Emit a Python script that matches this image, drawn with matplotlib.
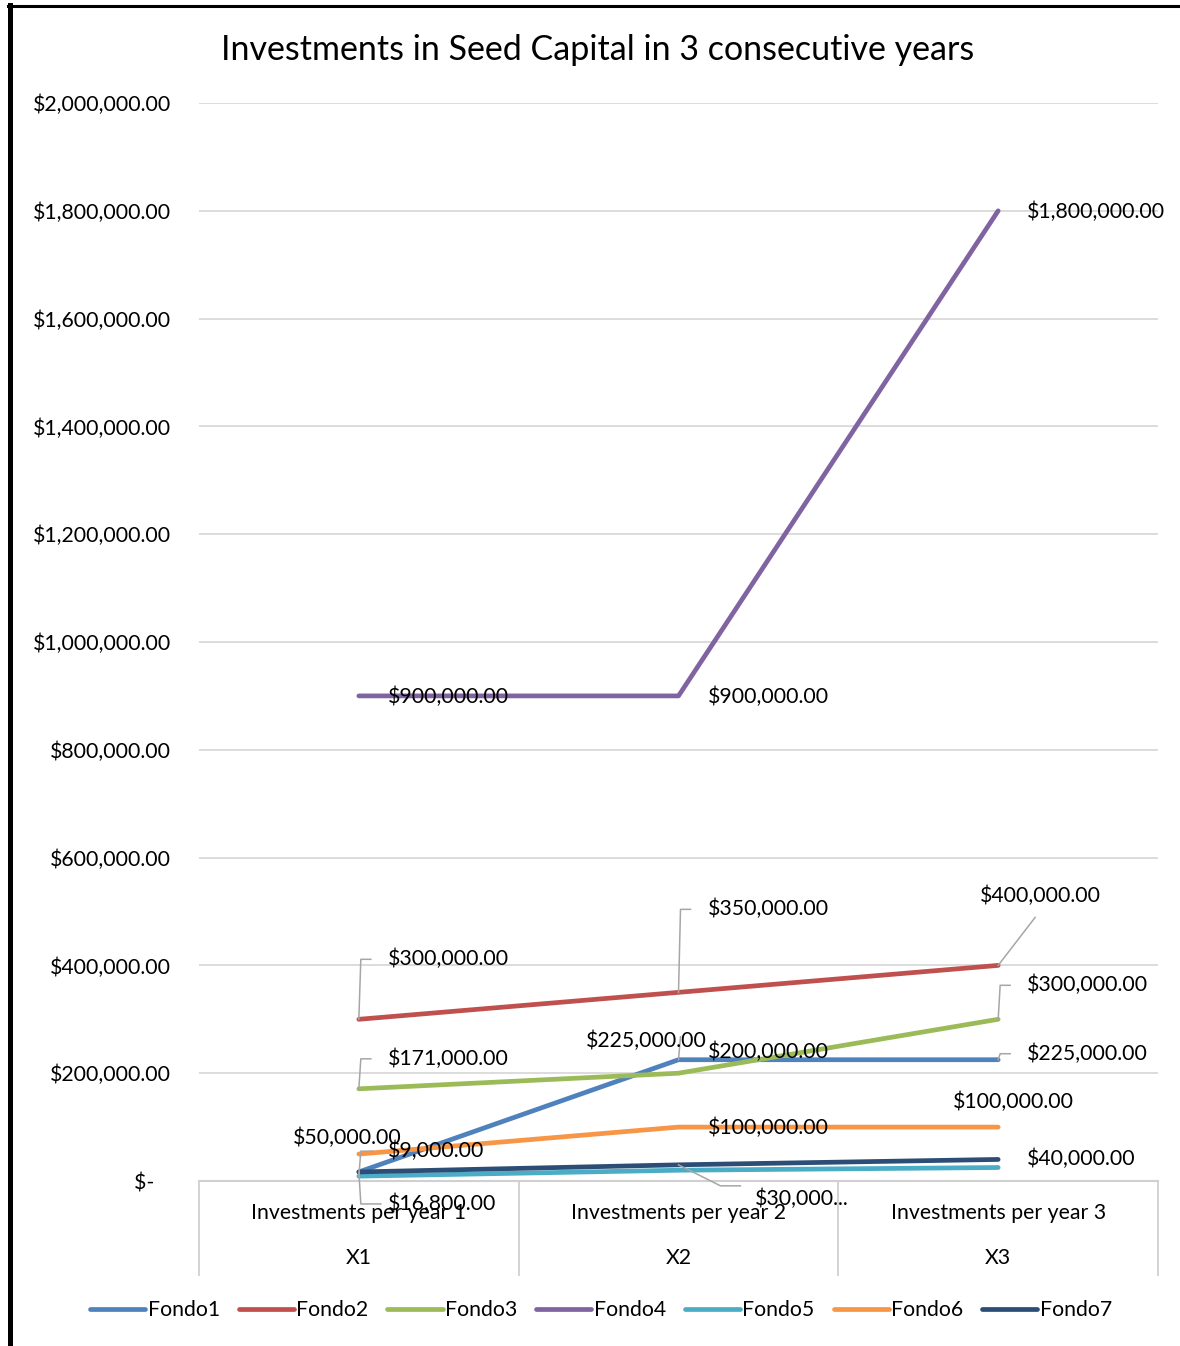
import matplotlib.pyplot as plt
from matplotlib.lines import Line2D
import matplotlib.ticker as mticker

plt.rcParams['font.family'] = ['Lato', 'DejaVu Sans']

# data
categories = ["Investments per year 1", "Investments per year 2", "Investments per year 3"]
groups = ["X1", "X2", "X3"]
series_names = ["Fondo1", "Fondo2", "Fondo3", "Fondo4", "Fondo5", "Fondo6", "Fondo7"]
fondo1 = [16800, 225000, 225000]
fondo2 = [300000, 350000, 400000]
fondo3 = [171000, 200000, 300000]
fondo4 = [900000, 900000, 1800000]
fondo5 = [9000, 20000, 25000]
fondo6 = [50000, 100000, 100000]
fondo7 = [16800, 30000, 40000]
series = [fondo1, fondo2, fondo3, fondo4, fondo5, fondo6, fondo7]
colors = ["#4F81BD", "#C0504D", "#9BBB59", "#8064A2", "#4BACC6", "#F79646", "#2C4D75"]
yticks = [0, 200000, 400000, 600000, 800000, 1000000, 1200000, 1400000, 1600000, 1800000, 2000000]

FS = 15.3
W, H = 1180, 1346
fig = plt.figure(figsize=(W / 100, H / 100), dpi=100)
ax = fig.add_axes([199 / W, (H - 1181) / H, (1158 - 199) / W, (1181 - 103) / H])

x = range(len(categories))
for vals, c, name in zip(series, colors, series_names):
    ax.plot(x, vals, color=c, lw=3.4, solid_capstyle='round', solid_joinstyle='round',
            label=name, zorder=3)

ax.set_xlim(-0.5, 2.5)
ax.set_ylim(0, 2000000)
ax.set_yticks(yticks)
ax.yaxis.set_major_formatter(mticker.FuncFormatter(
    lambda v, p: "$-   " if v == 0 else f"${v:,.2f}"))
ax.tick_params(axis='y', length=0, pad=20, labelsize=FS)
ax.set_xticks([])
for s in ax.spines.values():
    s.set_visible(False)
ax.grid(axis='y', color='#d9d9d9', lw=1.3, zorder=0)

# multi-level category axis below the plot
gray = '#d0d0d0'
axh = 1181 - 103
tr = ax.get_xaxis_transform()
ax.add_line(Line2D([-0.5, 2.5], [0, 0], transform=tr, color=gray, lw=1.5, clip_on=False))
for xv in [-0.5, 0.5, 1.5, 2.5]:
    ax.add_line(Line2D([xv, xv], [0, -94 / axh], transform=tr, color=gray, lw=1.3, clip_on=False))
for i, (cat, g) in enumerate(zip(categories, groups)):
    ax.text(i, -32 / axh, cat, transform=tr, ha='center', va='center', fontsize=FS)
    ax.text(i, -77 / axh, g, transform=tr, ha='center', va='center', fontsize=FS)

# data labels (offsets in pixels)
lead = dict(color='#a6a6a6', lw=1.1)


def lab(xi, yv, text, dx, dy, ha='left', path=None):
    ax.annotate(text, (xi, yv), xytext=(dx, dy), textcoords='offset pixels',
                ha=ha, va='center', fontsize=FS, zorder=5, annotation_clip=False)
    if path is not None:
        px = [xi + p[0] / 320 for p in path]
        py = [yv - p[1] * 2000000 / axh for p in path]
        ax.add_line(Line2D(px, py, zorder=4, clip_on=False, **lead))


lab(2, fondo4[2], "$1,800,000.00", 29, -1)
lab(0, fondo4[0], "$900,000.00", 29, -1)
lab(1, fondo4[1], "$900,000.00", 29, -1)
lab(2, fondo2[2], "$400,000.00", 42, 70, ha='center', path=[(0, 0), (37, -48)])
lab(1, fondo2[1], "$350,000.00", 29, 83, path=[(0, 0), (2, -83), (12, -83)])
lab(0, fondo2[0], "$300,000.00", 29, 60, path=[(0, 0), (2, -60), (12, -60)])
lab(2, fondo3[2], "$300,000.00", 29, 34, path=[(0, 0), (2, -34), (12, -34)])
lab(2, fondo1[2], "$225,000.00", 29, 6, path=[(0, 0), (2, -6), (12, -6)])
lab(1, fondo1[1], "$225,000.00", 28, 19, ha='right', path=[(0, 0), (2, -23)])
lab(1, fondo3[1], "$200,000.00", 29, 21)
lab(0, fondo3[0], "$171,000.00", 29, 30, path=[(0, 0), (2, -30), (12, -30)])
lab(0, fondo6[0], "$50,000.00", -12, 16, ha='center')
lab(0, fondo5[0], "$9,000.00", 29, 25, path=[(0, 0), (2, -25), (14, -25)])
lab(0, fondo7[0], "$16,800.00", 29, -32, path=[(0, 0), (2, 32), (22, 32)])
lab(1, fondo6[1], "$100,000.00", 29, -1)
lab(2, fondo6[2], "$100,000.00", 15, 25, ha='center')
lab(1, fondo7[1], "$30,000...", 76, -34, path=[(0, 0), (42, 21), (62, 21)])
lab(2, fondo7[2], "$40,000.00", 29, 1)

fig.text(598 / W, 1 - 50 / H, "Investments in Seed Capital in 3 consecutive years",
         ha='center', va='center', fontsize=24.5)

fig.legend(loc='center', bbox_to_anchor=(601 / W, 1 - 1310 / H), ncol=7, frameon=False,
           fontsize=FS, handlelength=2.6, handletextpad=0.1, columnspacing=0.9)

# chart border (left and top)
fig.add_artist(Line2D([9.5 / W, 9.5 / W], [0, 1 - 5 / H], color='black', lw=3.6))
fig.add_artist(Line2D([8 / W, 1], [1 - 6 / H, 1 - 6 / H], color='black', lw=2.2))

fig.savefig('out.png', dpi=100)
